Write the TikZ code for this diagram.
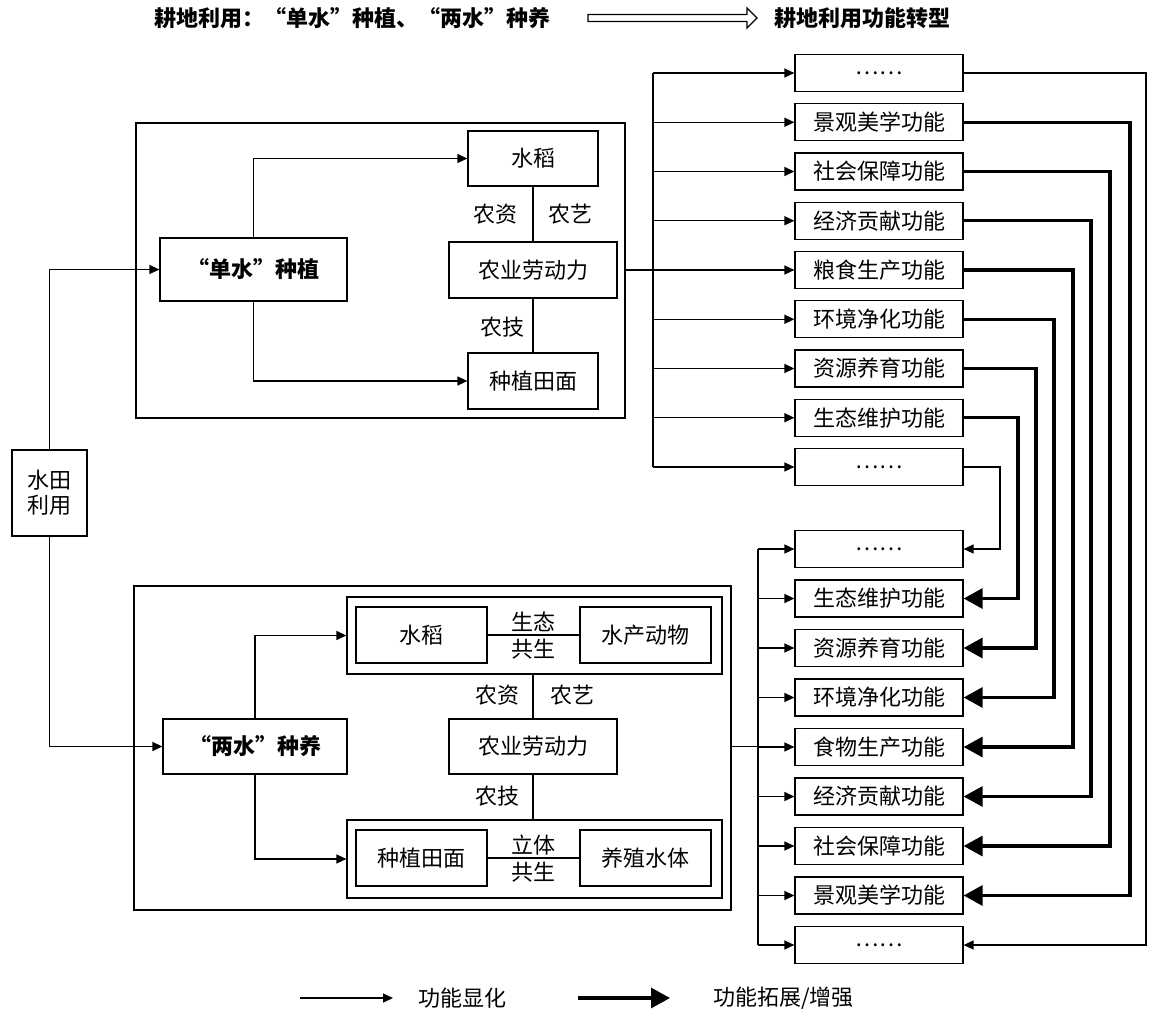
\documentclass[tikz,border=0pt]{standalone}
\usepackage{fontspec}
\setmainfont{Noto Sans CJK SC}
\usetikzlibrary{arrows.meta,calc}
\tikzset{
  x=1pt,y=-1pt,
  bx/.style={draw,line width=1.2pt,inner sep=0pt,font=\fontsize{22}{25}\selectfont},
  fbox/.style={bx,minimum width=168,minimum height=37},
  lbl/.style={inner sep=0pt,font=\fontsize{22}{25}\selectfont},
  ttl/.style={inner sep=0pt,font=\fontsize{22}{25}\selectfont\bfseries},
  ln/.style={line width=1.3pt},
  arr/.style={line width=1.3pt,-{Triangle[length=10pt,width=9pt]}},
  tarr/.style={line width=3.2pt,-{Triangle[length=19pt,width=20pt]}},
}
\begin{document}
\begin{tikzpicture}
\useasboundingbox (0,0) rectangle (1149,1017);
% title
\node[ttl] (titleL) at (352.5,18) {耕地利用：“单水”种植、“两水”种养};
\node[ttl] (titleR) at (862.5,18) {耕地利用功能转型};
\coordinate (ha) at (588,18);
\coordinate (hb) at (757,18);
\draw[line width=1.2pt,line join=miter]
  ($(ha)+(0,-3.5)$) -- ($(hb)+(-10,-3.5)$) -- ($(hb)+(-10,-10)$) -- (hb)
  -- ($(hb)+(-10,10)$) -- ($(hb)+(-10,3.5)$) -- ($(ha)+(0,3.5)$) -- cycle;

% left source
\node[bx,minimum width=75,minimum height=86,align=center] (stly) at (49.5,493) {水田\\利用};

% top block
\node[bx,minimum width=489,minimum height=295] (topbig) at (380.5,270.5) {};
\node[bx,minimum width=187,minimum height=63,font=\fontsize{22}{25}\selectfont\bfseries] (dsz) at (253.5,269.5) {“单水”种植};
\node[bx,minimum width=130,minimum height=55] (sd1) at (533,158.5) {水稻};
\node[bx,minimum width=168,minimum height=56] (ld1) at (533,270) {农业劳动力};
\node[bx,minimum width=130,minimum height=56] (zt1) at (533,381) {种植田面};
\node[lbl] (nz1) at (495,214) {农资};
\node[lbl] (ny1) at (570,214) {农艺};
\node[lbl] (nj1) at (502,327) {农技};
\draw[arr] (dsz.north) |- (sd1.west);
\draw[arr] (dsz.south) |- (zt1.west);
\draw[ln] (sd1.south) -- (ld1.north);
\draw[ln] (ld1.south) -- (zt1.north);

% bottom block
\node[bx,minimum width=597,minimum height=324] (botbig) at (432.5,748) {};
\node[bx,minimum width=184,minimum height=55,font=\fontsize{22}{25}\selectfont\bfseries] (lsz) at (255,746.5) {“两水”种养};
\node[bx,minimum width=168,minimum height=55] (ld2) at (533,746.5) {农业劳动力};
\node[bx,minimum width=375,minimum height=77] (g1) at (534.5,635.5) {};
\node[bx,minimum width=131,minimum height=56] (sd2) at (421.5,635) {水稻};
\node[bx,minimum width=131,minimum height=56] (sc) at (645.5,635) {水产动物};
\node[bx,minimum width=375,minimum height=78] (g2) at (534.5,859) {};
\node[bx,minimum width=131,minimum height=56] (zt2) at (421.5,858) {种植田面};
\node[bx,minimum width=131,minimum height=56] (yz) at (645.5,858) {养殖水体};
\node[lbl] (st) at (533.5,622) {生态};
\node[lbl] (gs1) at (533.5,649) {共生};
\node[lbl] (lt) at (533.5,845) {立体};
\node[lbl] (gs2) at (533.5,872) {共生};
\node[lbl] (nz2) at (497,695) {农资};
\node[lbl] (ny2) at (572,695) {农艺};
\node[lbl] (nj2) at (497,796) {农技};
\draw[ln] (sd2.east) -- (sc.west);
\draw[ln] (zt2.east) -- (yz.west);
\draw[ln] (ld2.north) -- (ld2.north |- g1.south);
\draw[ln] (ld2.south) -- (ld2.south |- g2.north);
\draw[arr] (lsz.north) |- (g1.west);
\draw[arr] (lsz.south) |- (g2.west);

% source arrows
\draw[arr] (stly.north) |- (dsz.west);
\draw[arr] (stly.south) |- (lsz.west);

% function columns
\foreach \n/\t [count=\i from 0] in {t1/……,t2/景观美学功能,t3/社会保障功能,t4/经济贡献功能,t5/粮食生产功能,t6/环境净化功能,t7/资源养育功能,t8/生态维护功能,t9/……}
  \node[fbox] (\n) at (879,73+49.25*\i) {\t};
\foreach \n/\t [count=\i from 0] in {b1/……,b2/生态维护功能,b3/资源养育功能,b4/环境净化功能,b5/食物生产功能,b6/经济贡献功能,b7/社会保障功能,b8/景观美学功能,b9/……}
  \node[fbox] (\n) at (879,549+49.5*\i) {\t};

% buses
\coordinate (tb) at (653,0);
\coordinate (bb) at (758,0);
\draw[ln] (tb |- t1.west) -- (tb |- t9.west);
\draw[ln] (bb |- b1.west) -- (bb |- b9.west);
\draw[ln] (topbig.east |- ld1.east) -- (tb |- ld1.east);
\draw[ln] (botbig.east |- ld2.east) -- (bb |- ld2.east);
\foreach \n in {t1,t2,t3,t4,t5,t6,t7,t8,t9}
  \draw[arr] (tb |- \n.west) -- (\n.west);
\foreach \n in {b1,b2,b3,b4,b5,b6,b7,b8,b9}
  \draw[arr] (bb |- \n.west) -- (\n.west);

% right routing
\foreach \a/\b/\x in {t1/b9/1146,t9/b1/1000}{
  \coordinate (rx) at (\x,0);
  \draw[arr] (\a.east) -- (rx |- \a.east) -- (rx |- \b.east) -- (\b.east);
}
\foreach \a/\b/\x in {t2/b8/1130,t3/b7/1110,t4/b6/1091,t5/b5/1073,t6/b4/1054,t7/b3/1036,t8/b2/1018}{
  \coordinate (rx) at (\x,0);
  \draw[tarr] (\a.east) -- (rx |- \a.east) -- (rx |- \b.east) -- (\b.east);
}

% legend
\coordinate (la1) at (300,998);
\coordinate (la2) at (393,998);
\coordinate (lb1) at (578,998);
\coordinate (lb2) at (670,998);
\draw[arr] (la1) -- (la2);
\draw[tarr] (lb1) -- (lb2);
\node[lbl,anchor=west] (lg1) at (418,998) {功能显化};
\node[lbl,anchor=west] (lg2) at (713,998) {功能拓展/增强};
\end{tikzpicture}
\end{document}
